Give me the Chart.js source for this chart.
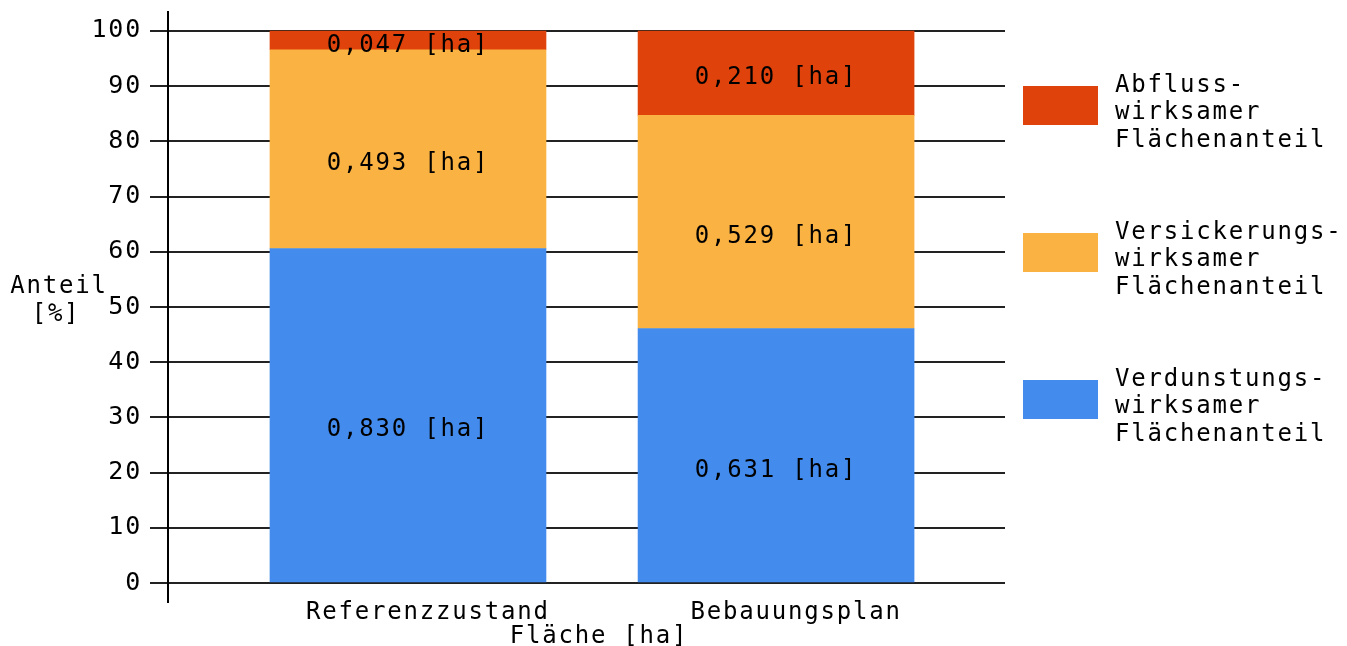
<!DOCTYPE html>
<html>
<head>
<meta charset="utf-8">
<script src="https://cdn.jsdelivr.net/npm/chart.js@4/dist/chart.umd.min.js"></script>
<style>
  html, body { margin: 0; padding: 0; background: #fff; }
  #wrap { width: 1347px; height: 646px; }
</style>
</head>
<body>
<div id="wrap"><canvas id="chart"></canvas></div>
<script>
// data
const categories = ['Referenzzustand', 'Bebauungsplan'];
const verdunstungHa = [0.830, 0.631];
const versickerungHa = [0.493, 0.529];
const abflussHa = [0.047, 0.210];
const verdunstungPct = [60.6, 46.1];
const versickerungPct = [36.0, 38.6];
const abflussPct = [3.4, 15.3];
const yTicks = [0, 10, 20, 30, 40, 50, 60, 70, 80, 90, 100];
const verdunstungLegend = ['Verdunstungs-', 'wirksamer', 'Flächenanteil'];
const versickerungLegend = ['Versickerungs-', 'wirksamer', 'Flächenanteil'];
const abflussLegend = ['Abfluss-', 'wirksamer', 'Flächenanteil'];
const xTitle = 'Fläche [ha]';
const yTitle = ['Anteil', '[%]'];

const FONT = "'DejaVu Sans Mono', 'Liberation Mono', monospace";
const SPACING = '1.8px';

Chart.defaults.font.family = FONT;
Chart.defaults.font.size = 24;
Chart.defaults.color = '#000';

function toPoints(values) {
  return categories.map((c, i) => ({ x: i + 1, y: values[i] }));
}

function fmtHa(v) {
  return v.toFixed(3).replace('.', ',') + ' [ha]';
}

const letterSpacing = {
  id: 'letterSpacing',
  beforeUpdate(chart) { chart.ctx.letterSpacing = SPACING; },
  beforeDraw(chart) { chart.ctx.letterSpacing = SPACING; }
};

const segmentLabels = {
  id: 'segmentLabels',
  afterDatasetsDraw(chart) {
    const ctx = chart.ctx;
    ctx.save();
    ctx.letterSpacing = SPACING;
    ctx.font = '24px ' + FONT;
    ctx.fillStyle = '#000';
    ctx.textAlign = 'center';
    ctx.textBaseline = 'middle';
    chart.data.datasets.forEach((ds, di) => {
      chart.getDatasetMeta(di).data.forEach((bar, i) => {
        const { x, y, base } = bar.getProps(['x', 'y', 'base'], true);
        ctx.fillText(fmtHa(ds.ha[i]), x, (y + base) / 2 + ds.labelShift);
      });
    });
    ctx.restore();
  }
};

const sideTexts = {
  id: 'sideTexts',
  afterDraw(chart) {
    const ctx = chart.ctx;
    const area = chart.chartArea;
    ctx.save();
    ctx.letterSpacing = SPACING;
    ctx.font = '24px ' + FONT;
    ctx.fillStyle = '#000';
    ctx.textBaseline = 'alphabetic';

    // axis titles, both horizontal
    ctx.textAlign = 'center';
    ctx.fillText(yTitle[0], 59, 293);
    ctx.fillText(yTitle[1], 56, 321);
    ctx.fillText(xTitle, 599, 643);

    // legend, top dataset first
    ctx.textAlign = 'left';
    const items = chart.data.datasets.slice().reverse();
    items.forEach((ds, k) => {
      const top = 86 + 147 * k;
      ctx.fillStyle = ds.backgroundColor;
      ctx.fillRect(area.right + 18, top, 75, 39);
      ctx.fillStyle = '#000';
      ds.legendLines.forEach((line, j) => {
        ctx.fillText(line, area.right + 110, top + 6 + 27.3 * j);
      });
    });
    ctx.restore();
  }
};

new Chart(document.getElementById('chart'), {
  type: 'bar',
  data: {
    datasets: [
      {
        label: verdunstungLegend.join(' '),
        legendLines: verdunstungLegend,
        data: toPoints(verdunstungPct),
        ha: verdunstungHa,
        backgroundColor: '#438cee',
        labelShift: 15,
      },
      {
        label: versickerungLegend.join(' '),
        legendLines: versickerungLegend,
        data: toPoints(versickerungPct),
        ha: versickerungHa,
        backgroundColor: '#fab242',
        labelShift: 15,
      },
      {
        label: abflussLegend.join(' '),
        legendLines: abflussLegend,
        data: toPoints(abflussPct),
        ha: abflussHa,
        backgroundColor: '#e0420b',
        labelShift: 5,
      },
    ],
  },
  options: {
    responsive: true,
    maintainAspectRatio: false,
    animation: false,
    barThickness: 276,
    layout: { padding: { top: 12, right: 342, left: 0, bottom: 0 } },
    plugins: {
      legend: { display: false },
      tooltip: { enabled: false },
    },
    scales: {
      x: {
        type: 'linear',
        stacked: true,
        offset: false,
        min: 0.348,
        max: 2.622,
        grid: { display: false, drawTicks: false, offset: false },
        border: { display: false },
        afterBuildTicks: (s) => { s.ticks = categories.map((c, i) => ({ value: i + 1 })); },
        ticks: {
          callback: (v) => categories[v - 1] ?? '',
          labelOffset: 20,
          padding: -4,
          autoSkip: false,
          maxRotation: 0,
        },
        title: { display: false },
        afterFit: (s) => {
          s.height = 44;
          // labels sit slightly over the axis end, do not clip them to the scale box
          s._computeLabelArea = () => undefined;
        },
      },
      y: {
        stacked: true,
        min: -3.44,
        max: 103.44,
        afterBuildTicks: (s) => { s.ticks = yTicks.map((v) => ({ value: v })); },
        grid: { color: '#222', lineWidth: 2, tickLength: 18 },
        border: { display: true, color: '#000', width: 2 },
        ticks: { padding: 8, font: { size: 25 } },
        afterFit: (s) => {
          s.width = 168;
          s.paddingTop = 0;
          s.paddingBottom = 0;
        },
      },
    },
  },
  plugins: [letterSpacing, segmentLabels, sideTexts],
});
</script>
</body>
</html>
